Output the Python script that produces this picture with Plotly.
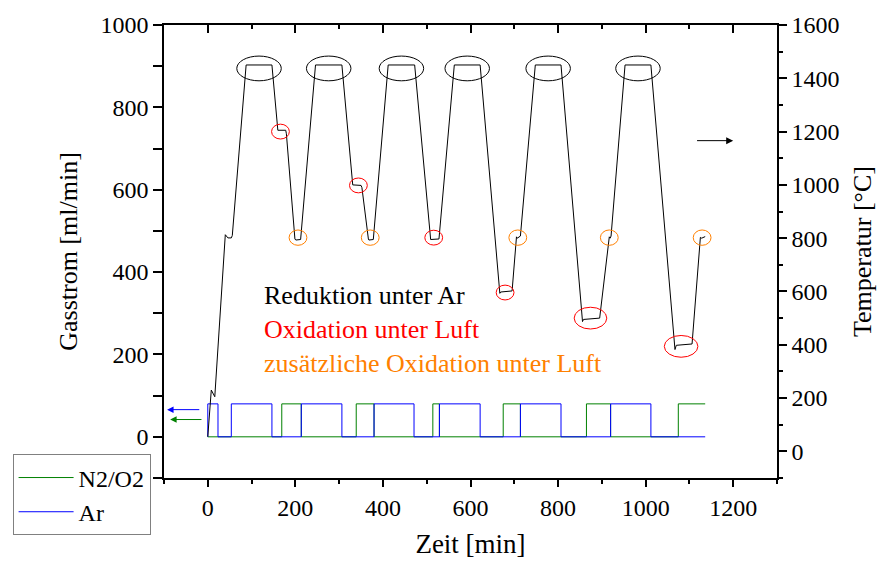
import plotly.graph_objects as go

# ---------------- data ----------------
# temperature programme (right axis, °C) vs time (min)
temp_time = [0, 8, 16, 40, 46, 53.7, 56, 87.6, 146.5, 159, 160, 178, 179.5, 199, 201, 212,
             246, 306.3, 329, 331, 350, 352, 366.8, 368, 378,
             412, 472.5, 507, 509, 528,
             563, 622, 667, 669, 695, 705, 707, 714,
             748, 806.7, 855.8, 858, 895, 917, 919, 921,
             953, 1012, 1067, 1070, 1106, 1125, 1128, 1136]
temp_vals = [55, 230, 205, 813, 801, 801, 810, 1450, 1450, 1215, 1205, 1205, 1192, 797, 793, 795,
             1450, 1450, 1013, 1000, 998, 990, 797, 793, 795,
             1450, 1450, 805, 795, 797,
             1450, 1450, 593, 598, 602, 805, 800, 808,
             1450, 1450, 487, 495, 500, 805, 800, 808,
             1450, 1450, 382, 398, 403, 803, 800, 806]

# gas flows (left axis, ml/min)
n2o2_time = [0, 169, 213.5, 339, 379.7, 514, 529, 674.7, 714, 864.8, 920, 1074.6, 1136]
n2o2_vals = [0, 80, 0, 80, 0, 80, 0, 80, 0, 80, 0, 80, 80]
ar_time = [0, 0, 23.3, 53.7, 146.5, 213.5, 306.3, 379.7, 471, 529, 622, 714, 806.7, 920, 1012, 1136]
ar_vals = [0, 80, 0, 80, 0, 80, 0, 80, 0, 80, 0, 80, 0, 80, 0, 0]

# marked regions
plateau_start = [87.6, 246, 412, 563, 748, 953]
plateau_end = [146.5, 306.3, 472.5, 622, 806.7, 1012]
plateau_temp = 1437
red_time = [166, 344, 516, 679, 874, 1081]
red_temp = [1200, 998, 802, 596, 500, 394]
orange_time = [206, 371, 708, 917, 1129]
orange_temp = [802, 802, 802, 802, 802]

legend_labels = ["N2/O2", "Ar"]
notes = ["Reduktion unter Ar", "Oxidation unter Luft", "zusätzliche Oxidation unter Luft"]
note_x = 124
note_y = 260

# ---------------- figure ----------------
FONT = "Liberation Serif, Times New Roman, serif"
W, H = 884, 566
ML, MR, MT, MB = 163, 101, 22, 86
XR = [-100, 1300]
YR = [-100, 1000]
Y2R = [-100, 1600]
px_x = (XR[1] - XR[0]) / (W - ML - MR)
px_y2 = (Y2R[1] - Y2R[0]) / (H - MT - MB)

fig = go.Figure()
fig.add_trace(go.Scatter(x=n2o2_time, y=n2o2_vals, mode="lines", line_shape="hv",
                         line=dict(color="#008000", width=1), name=legend_labels[0]))
fig.add_trace(go.Scatter(x=ar_time, y=ar_vals, mode="lines", line_shape="hv",
                         line=dict(color="#0000FF", width=1), name=legend_labels[1]))
fig.add_trace(go.Scatter(x=temp_time, y=temp_vals, mode="lines", yaxis="y2",
                         line=dict(color="black", width=1), showlegend=False))
fig.add_trace(go.Scatter(x=[None], y=[None], xaxis="x2", yaxis="y", showlegend=False,
                         hoverinfo="skip"))

shapes = []
def ellipse(xc, yc, wpx, hpx, color):
    return dict(type="circle", xref="x", yref="y2",
                x0=xc - wpx / 2 * px_x, x1=xc + wpx / 2 * px_x,
                y0=yc - hpx / 2 * px_y2, y1=yc + hpx / 2 * px_y2,
                line=dict(color=color, width=1))

for s, e in zip(plateau_start, plateau_end):
    shapes.append(ellipse((s + e) / 2, plateau_temp, 45, 25, "black"))
red_sizes = [(18, 15), (18, 15), (18, 15), (18, 15), (33, 22), (34, 22)]
for (t, T), (w, h) in zip(zip(red_time, red_temp), red_sizes):
    shapes.append(ellipse(t, T, w, h, "#FF0000"))
for t, T in zip(orange_time, orange_temp):
    shapes.append(ellipse(t, T, 18, 15.5, "#FF8000"))

annotations = []
note_colors = ["black", "#FF0000", "#FF8000"]
note_text = "<br>".join(f"<span style='color:{c}'>{t}</span>" for t, c in zip(notes, note_colors))
annotations.append(dict(text=note_text, x=note_x, y=note_y, xref="x", yref="y", xanchor="left",
                        yanchor="middle", align="left", showarrow=False,
                        font=dict(family=FONT, size=26, color="black")))

# arrows indicating axes
annotations.append(dict(x=-93, y=66, ax=-16, ay=66, xref="x", yref="y", axref="x", ayref="y",
                        text="", showarrow=True, arrowhead=2, arrowsize=1.3, arrowwidth=1,
                        arrowcolor="#0000FF"))
annotations.append(dict(x=-86, y=42, ax=-11, ay=42, xref="x", yref="y", axref="x", ayref="y",
                        text="", showarrow=True, arrowhead=2, arrowsize=1.3, arrowwidth=1,
                        arrowcolor="#008000"))
annotations.append(dict(x=1200, y=1166, ax=1114, ay=1166, xref="x", yref="y2", axref="x", ayref="y2",
                        text="", showarrow=True, arrowhead=2, arrowsize=1.4, arrowwidth=1,
                        arrowcolor="black"))

axis_common = dict(showgrid=False, zeroline=False, showline=True, linecolor="black", linewidth=1.5,
                   tickcolor="black", tickwidth=1.5, tickfont=dict(family=FONT, size=24, color="black"))

fig.update_layout(
    width=W, height=H,
    margin=dict(l=ML, r=MR, t=MT, b=MB),
    plot_bgcolor="white", paper_bgcolor="white",
    font=dict(family=FONT, color="black"),
    shapes=shapes, annotations=annotations,
    xaxis=dict(range=XR, dtick=200, tick0=0, ticks="outside", ticklen=7,
               minor=dict(dtick=100, ticks="outside", ticklen=4, tickcolor="black", tickwidth=1.5),
               title=dict(text="Zeit [min]", font=dict(family=FONT, size=27)),
               **axis_common),
    xaxis2=dict(range=XR, overlaying="x", side="top", anchor="y", dtick=200, tick0=0,
                ticks="inside", ticklen=8, showticklabels=False,
                minor=dict(dtick=100, ticks="inside", ticklen=4, tickcolor="black", tickwidth=1.5),
                **axis_common),
    yaxis=dict(range=YR, dtick=200, tick0=0, ticks="outside", ticklen=9,
               minor=dict(dtick=100, ticks="outside", ticklen=9, tickcolor="black", tickwidth=1.5),
               title=dict(text="Gasstrom [ml/min]", font=dict(family=FONT, size=26)),
               **axis_common),
    yaxis2=dict(range=Y2R, overlaying="y", side="right", anchor="x", dtick=200, tick0=0,
                ticks="outside", ticklen=8,
                minor=dict(dtick=100, ticks="outside", ticklen=4, tickcolor="black", tickwidth=1.5),
                title=dict(text="Temperatur [°C]", font=dict(family=FONT, size=26), standoff=14),
                **axis_common),
    legend=dict(x=-0.247, y=0.052, xanchor="left", yanchor="top", bgcolor="white",
                bordercolor="#808080", borderwidth=1, font=dict(family=FONT, size=24),
                tracegroupgap=0, itemwidth=55),
)

fig.write_html("out.html")
